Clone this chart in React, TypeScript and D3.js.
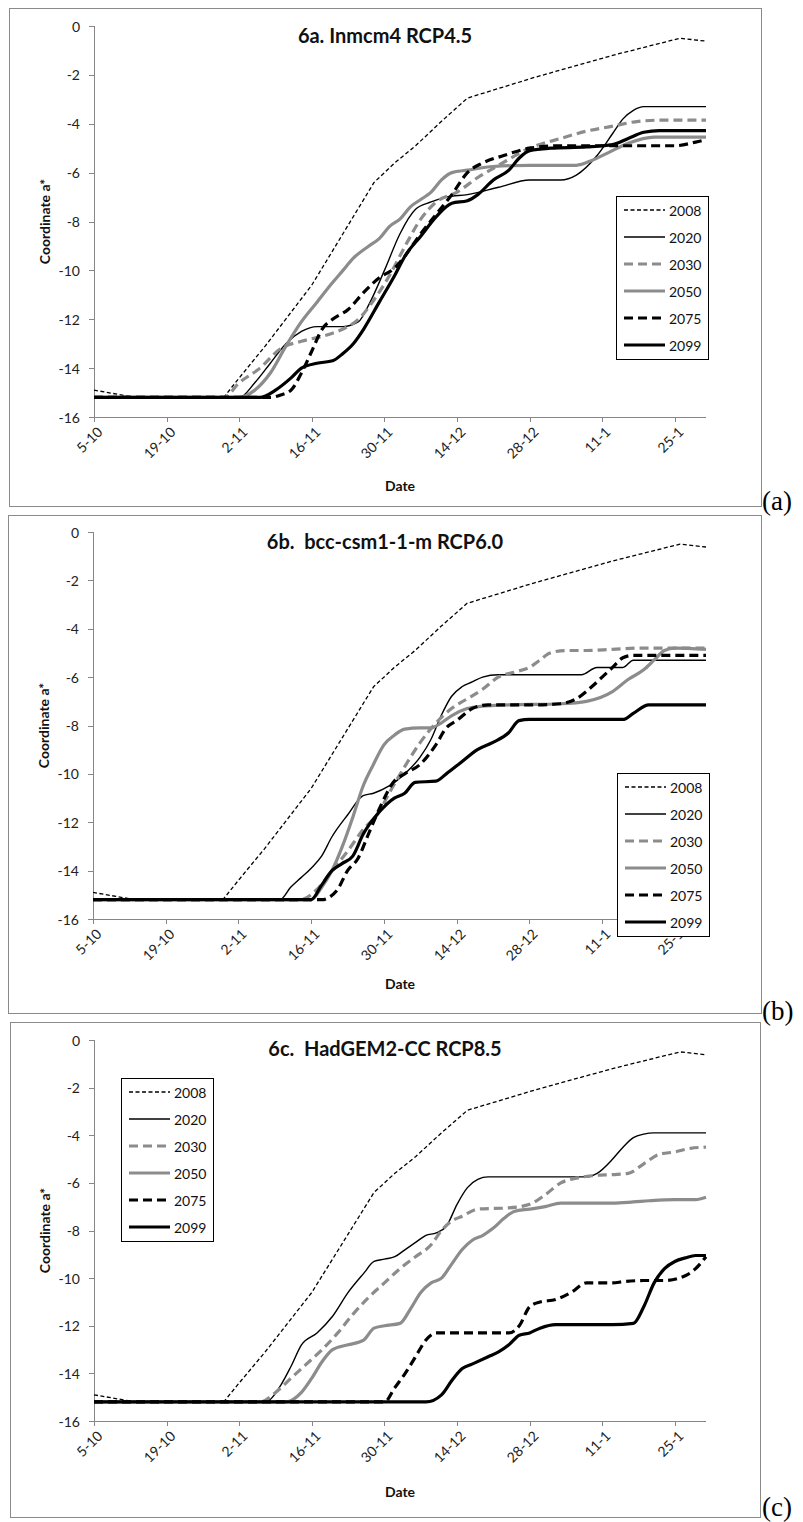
import React from "react";
import * as d3 from "d3";

type Pt = [number, number];

// ---- shared axis data ----
const dateTickLabels = ["5-10", "19-10", "2-11", "16-11", "30-11", "14-12", "28-12", "11-1", "25-1"];
const dateTickDays = [0, 14, 28, 42, 56, 70, 84, 98, 112];
const dayDomain: [number, number] = [0, 118];
const valueTicks = [0, -2, -4, -6, -8, -10, -12, -14, -16];
const valueDomain: [number, number] = [-16, 0];
const years = ["2008", "2020", "2030", "2050", "2075", "2099"];
const panelTitles = ["6a. Inmcm4 RCP4.5", "6b.  bcc-csm1-1-m RCP6.0", "6c.  HadGEM2-CC RCP8.5"];
const panelTags = ["(a)", "(b)", "(c)"];

// ---- 2008 reference (same in all panels) ----
const s2008: Pt[] = [[0, -14.9], [8, -15.2], [25, -15.2], [28, -14.4], [33, -13.1], [42, -10.6], [48, -8.5], [54, -6.4], [58, -5.6], [62, -4.9], [67, -3.9], [72, -2.95], [85, -2.1], [100, -1.2], [113, -0.5], [118, -0.62]];

// ---- panel a: Inmcm4 RCP4.5 ----
const a2020: Pt[] = [[0, -15.2], [28, -15.2], [31, -14.6], [34, -13.8], [37, -13.0], [40, -12.5], [43, -12.3], [48, -12.3], [51, -12.1], [53, -11.4], [56, -10.0], [59, -8.5], [62, -7.5], [65, -7.2], [68, -7.0], [72, -6.9], [78, -6.6], [84, -6.3], [90, -6.3], [93, -6.1], [97, -5.3], [100, -4.4], [102, -3.8], [104, -3.45], [106, -3.3], [118, -3.3]];
const a2030: Pt[] = [[0, -15.2], [25, -15.2], [28, -14.6], [32, -14.0], [36, -13.2], [40, -12.9], [44, -12.7], [48, -12.4], [51, -12.0], [54, -11.2], [57, -10.2], [60, -9.0], [63, -7.9], [66, -7.2], [70, -6.8], [74, -6.2], [78, -5.7], [84, -5.0], [90, -4.6], [95, -4.3], [100, -4.1], [105, -3.9], [110, -3.85], [118, -3.85]];
const a2050: Pt[] = [[0, -15.2], [28, -15.2], [31, -14.9], [34, -14.2], [37, -13.1], [40, -12.1], [43, -11.3], [46, -10.5], [48, -10.0], [50, -9.5], [53, -9.0], [55, -8.7], [57, -8.2], [59, -7.9], [61, -7.4], [63, -7.1], [65, -6.8], [67, -6.3], [69, -6.0], [72, -5.9], [77, -5.75], [84, -5.7], [93, -5.7], [96, -5.5], [99, -5.2], [103, -4.8], [108, -4.55], [118, -4.55]];
const a2075: Pt[] = [[0, -15.2], [34, -15.2], [36, -15.1], [38, -14.9], [40, -14.2], [42, -13.3], [44, -12.4], [46, -12.0], [49, -11.6], [52, -10.9], [55, -10.3], [58, -9.9], [60, -9.4], [63, -8.5], [66, -7.7], [69, -6.9], [72, -6.0], [75, -5.6], [79, -5.3], [84, -5.0], [90, -4.9], [112, -4.9], [116, -4.75], [118, -4.65]];
const a2099: Pt[] = [[0, -15.2], [32, -15.2], [35, -14.9], [38, -14.4], [40, -14.0], [43, -13.8], [46, -13.7], [48, -13.4], [50, -13.0], [52, -12.4], [55, -11.3], [58, -10.2], [60, -9.4], [63, -8.6], [66, -7.8], [69, -7.25], [72, -7.15], [74, -6.9], [77, -6.3], [80, -5.9], [82, -5.4], [84, -5.1], [88, -5.0], [95, -4.95], [100, -4.85], [103, -4.6], [106, -4.35], [109, -4.28], [118, -4.28]];

// ---- panel b: bcc-csm1-1-m RCP6.0 ----
const b2020: Pt[] = [[0, -15.2], [36, -15.2], [38, -14.7], [40, -14.3], [42, -13.9], [44, -13.4], [46, -12.6], [49, -11.7], [52, -10.9], [54, -10.8], [57, -10.5], [60, -10.0], [63, -9.3], [65, -8.6], [67, -7.6], [69, -6.8], [71, -6.4], [73, -6.2], [75, -6.0], [78, -5.9], [84, -5.9], [94, -5.9], [97, -5.6], [102, -5.6], [104, -5.3], [118, -5.3]];
const b2030: Pt[] = [[0, -15.2], [40, -15.2], [43, -14.8], [46, -14.0], [49, -13.2], [52, -12.3], [55, -11.6], [57, -10.8], [60, -9.7], [63, -8.7], [66, -7.9], [69, -7.3], [72, -6.9], [75, -6.5], [78, -6.0], [81, -5.8], [84, -5.6], [86, -5.3], [88, -5.0], [91, -4.9], [95, -4.9], [100, -4.85], [105, -4.8], [118, -4.8]];
const b2050: Pt[] = [[0, -15.2], [42, -15.2], [44, -14.7], [46, -14.0], [48, -13.0], [50, -11.8], [52, -10.5], [54, -9.6], [56, -8.8], [58, -8.4], [60, -8.15], [63, -8.1], [65, -8.1], [67, -7.9], [69, -7.6], [72, -7.3], [75, -7.2], [80, -7.15], [90, -7.1], [95, -7.0], [100, -6.6], [103, -6.1], [106, -5.7], [108, -5.3], [110, -4.9], [112, -4.8], [118, -4.85]];
const b2075: Pt[] = [[0, -15.2], [44, -15.2], [47, -14.8], [49, -14.0], [51, -13.5], [53, -12.5], [55, -11.5], [58, -10.3], [60, -10.0], [63, -9.6], [66, -8.8], [68, -8.1], [70, -7.8], [73, -7.3], [76, -7.15], [85, -7.15], [90, -7.1], [93, -6.9], [96, -6.4], [98, -6.0], [100, -5.6], [102, -5.2], [104, -5.1], [118, -5.1]];
const b2099: Pt[] = [[0, -15.2], [42, -15.2], [44, -14.6], [46, -14.0], [48, -13.7], [50, -13.4], [52, -12.5], [55, -11.6], [58, -11.0], [60, -10.8], [62, -10.35], [66, -10.3], [68, -10.0], [71, -9.5], [74, -9.0], [77, -8.7], [80, -8.3], [82, -7.8], [84, -7.75], [102, -7.75], [104, -7.5], [107, -7.15], [118, -7.15]];

// ---- panel c: HadGEM2-CC RCP8.5 ----
const c2020: Pt[] = [[0, -15.2], [33, -15.2], [36, -14.5], [38, -13.7], [40, -12.8], [43, -12.3], [46, -11.6], [49, -10.6], [52, -9.8], [54, -9.3], [56, -9.2], [58, -9.1], [60, -8.8], [62, -8.5], [64, -8.2], [66, -8.1], [68, -7.8], [70, -6.9], [72, -6.2], [74, -5.85], [76, -5.75], [95, -5.75], [97, -5.6], [100, -5.0], [102, -4.5], [104, -4.1], [106, -3.95], [108, -3.9], [118, -3.9]];
const c2030: Pt[] = [[0, -15.2], [32, -15.2], [35, -14.8], [38, -14.2], [41, -13.6], [44, -13.0], [47, -12.3], [50, -11.5], [53, -10.8], [56, -10.2], [59, -9.6], [62, -9.1], [65, -8.6], [67, -8.0], [69, -7.6], [71, -7.4], [74, -7.1], [80, -7.05], [84, -6.9], [87, -6.5], [90, -6.0], [93, -5.8], [96, -5.7], [100, -5.65], [103, -5.6], [106, -5.2], [109, -4.8], [112, -4.7], [115, -4.55], [118, -4.5]];
const c2050: Pt[] = [[0, -15.2], [37, -15.2], [40, -14.8], [42, -14.2], [44, -13.5], [46, -13.0], [49, -12.8], [52, -12.6], [54, -12.1], [56, -12.0], [59, -11.9], [61, -11.3], [63, -10.6], [65, -10.2], [67, -10.0], [69, -9.4], [71, -8.8], [73, -8.4], [75, -8.2], [77, -7.9], [79, -7.5], [81, -7.2], [84, -7.1], [87, -7.0], [90, -6.85], [100, -6.85], [104, -6.8], [107, -6.75], [112, -6.7], [116, -6.7], [118, -6.6]];
const c2075: Pt[] = [[0, -15.2], [56, -15.2], [58, -14.6], [60, -14.0], [62, -13.3], [64, -12.6], [66, -12.3], [80, -12.3], [82, -12.0], [84, -11.2], [86, -11.0], [89, -10.9], [92, -10.6], [95, -10.2], [100, -10.2], [102, -10.15], [106, -10.1], [110, -10.1], [114, -9.9], [116, -9.6], [118, -9.1]];
const c2099: Pt[] = [[0, -15.2], [64, -15.2], [67, -14.9], [69, -14.3], [71, -13.8], [73, -13.6], [76, -13.3], [78, -13.1], [80, -12.8], [82, -12.4], [84, -12.3], [86, -12.1], [89, -11.95], [94, -11.95], [100, -11.95], [104, -11.9], [106, -11.2], [108, -10.2], [110, -9.6], [112, -9.3], [114, -9.15], [116, -9.05], [118, -9.05]];

const panelSeries: Pt[][][] = [
  [s2008, a2020, a2030, a2050, a2075, a2099],
  [s2008, b2020, b2030, b2050, b2075, b2099],
  [s2008, c2020, c2030, c2050, c2075, c2099],
];

// ---- styles (per year) ----
const GREY = "#8c8c8c";
const seriesStyle = [
  { stroke: "#000", width: 1.3, dash: "4,2.5", curve: d3.curveLinear },
  { stroke: "#000", width: 1.4, dash: "", curve: d3.curveMonotoneX },
  { stroke: GREY, width: 3.2, dash: "9,5", curve: d3.curveMonotoneX },
  { stroke: GREY, width: 3.2, dash: "", curve: d3.curveMonotoneX },
  { stroke: "#000", width: 3.2, dash: "9,5", curve: d3.curveMonotoneX },
  { stroke: "#000", width: 3.2, dash: "", curve: d3.curveMonotoneX },
];

// ---- layout ----
const layouts = [
  { fx: 9, fy: 8, fw: 752, fh: 498, x0: 94, x1: 706, y0: 26, y1: 417, titleY: 35, dateY: 485, ylabX: 44, lx: 616, ly: 196, tagY: 510 },
  { fx: 8, fy: 515, fw: 753, fh: 498, x0: 93, x1: 706, y0: 532, y1: 919, titleY: 541, dateY: 983, ylabX: 43, lx: 617, ly: 773, tagY: 1020 },
  { fx: 10, fy: 1022, fw: 750, fh: 495, x0: 94, x1: 706, y0: 1040, y1: 1421, titleY: 1048, dateY: 1491, ylabX: 44, lx: 121, ly: 1078, tagY: 1516 },
];

const FONT = "Lato, 'Open Sans', sans-serif";
const AXIS = "#868686";

function Panel({ idx }: { idx: number }) {
  const L = layouts[idx];
  const x = d3.scaleLinear().domain(dayDomain).range([L.x0, L.x1]);
  const y = d3.scaleLinear().domain(valueDomain).range([L.y1, L.y0]);
  const series = panelSeries[idx];
  return (
    <g>
      <rect x={L.fx + 0.5} y={L.fy + 0.5} width={L.fw} height={L.fh} fill="#fff" stroke="#8a8a8a" strokeWidth={1} />
      <text x={385} y={L.titleY} textAnchor="middle" dominantBaseline="central" fontFamily={FONT} fontWeight="bold" fontSize={20} fill="#111" style={{ whiteSpace: "pre" }}>
        {panelTitles[idx]}
      </text>
      {/* y axis */}
      <line x1={L.x0 + 0.5} x2={L.x0 + 0.5} y1={y(0)} y2={y(-16)} stroke={AXIS} strokeWidth={1} />
      {valueTicks.map((v) => (
        <g key={v}>
          <line x1={L.x0 - 5} x2={L.x0} y1={Math.round(y(v)) + 0.5} y2={Math.round(y(v)) + 0.5} stroke={AXIS} />
          <text x={L.x0 - 14} y={y(v)} textAnchor="end" dominantBaseline="central" fontFamily={FONT} fontSize={14} fill="#222">
            {v}
          </text>
        </g>
      ))}
      {/* x axis */}
      <line x1={L.x0} x2={L.x1} y1={Math.round(y(-16)) + 0.5} y2={Math.round(y(-16)) + 0.5} stroke={AXIS} strokeWidth={1} />
      {dateTickDays.map((d, i) => {
        const tx = Math.round(x(d)) + 0.5;
        const ty = y(-16);
        return (
          <g key={d}>
            <line x1={tx} x2={tx} y1={ty} y2={ty + 5} stroke={AXIS} />
            <text transform={`translate(${tx + 5},${ty + 12}) rotate(-45)`} textAnchor="end" dominantBaseline="central" fontFamily={FONT} fontSize={14} fill="#222">
              {dateTickLabels[i]}
            </text>
          </g>
        );
      })}
      <text x={400} y={L.dateY} textAnchor="middle" dominantBaseline="central" fontFamily={FONT} fontWeight="bold" fontSize={14} fill="#111">
        Date
      </text>
      <text transform={`translate(${L.ylabX},${(L.y0 + L.y1) / 2}) rotate(-90)`} textAnchor="middle" dominantBaseline="central" fontFamily={FONT} fontWeight="bold" fontSize={14} fill="#111">
        Coordinate a*
      </text>
      {/* lines */}
      {series.map((s, i) => {
        const st = seriesStyle[i];
        const gen = d3.line<Pt>().x((p) => x(p[0])).y((p) => y(p[1])).curve(st.curve);
        return <path key={i} d={gen(s) || ""} fill="none" stroke={st.stroke} strokeWidth={st.width} strokeDasharray={st.dash || undefined} strokeLinejoin="round" />;
      })}
      {/* legend */}
      <rect x={L.lx + 0.5} y={L.ly + 0.5} width={92} height={163} fill="#fff" stroke="#000" strokeWidth={1} />
      {years.map((yr, i) => {
        const st = seriesStyle[i];
        const cy = L.ly + 14 + i * 27;
        return (
          <g key={yr}>
            <line x1={L.lx + 8} x2={L.lx + 49} y1={cy} y2={cy} stroke={st.stroke} strokeWidth={st.width} strokeDasharray={st.dash || undefined} />
            <text x={L.lx + 53} y={cy} dominantBaseline="central" fontFamily={FONT} fontSize={14} fill="#111">
              {yr}
            </text>
          </g>
        );
      })}
      <text x={762} y={L.tagY} fontFamily="'Liberation Serif', 'Times New Roman', serif" fontSize={27} fill="#000">
        {panelTags[idx]}
      </text>
    </g>
  );
}

export default function App() {
  return (
    <svg width={803} height={1522} style={{ position: "absolute", left: 0, top: 0, display: "block", background: "#fff" }}>
      <rect x={0} y={0} width={803} height={1522} fill="#fff" />
      {[0, 1, 2].map((i) => (
        <Panel key={i} idx={i} />
      ))}
    </svg>
  );
}
